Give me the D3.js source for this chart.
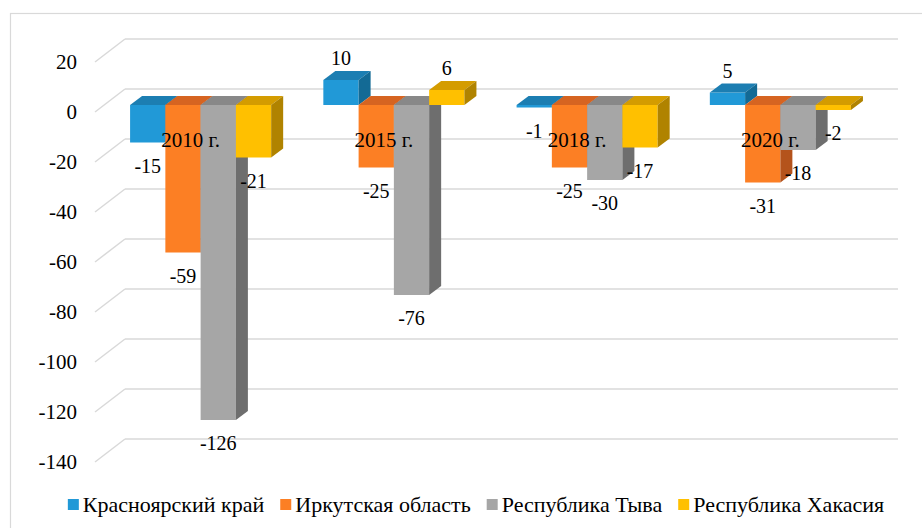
<!DOCTYPE html>
<html>
<head>
<meta charset="utf-8">
<script src="https://cdn.jsdelivr.net/npm/d3@7"></script>
<style>
  body { margin: 0; background: #fff; }
</style>
</head>
<body>
<script>
// data
var categories = ["2010 г.", "2015 г.", "2018 г.", "2020 г."];
var seriesNames = ["Красноярский край", "Иркутская область", "Республика Тыва", "Республика Хакасия"];
var krasnoyarsk = [-15, 10, -1, 5];
var irkutsk = [-59, -25, -25, -31];
var tyva = [-126, -76, -30, -18];
var khakasia = [-21, 6, -17, -2];
var tickValues = [20, 0, -20, -40, -60, -80, -100, -120, -140];

var seriesValues = [krasnoyarsk, irkutsk, tyva, khakasia];
var colors = [
    {front: "#2199d7", top: "#1c7eb2", side: "#136a95"},
    {front: "#fc7f24", top: "#d66421", side: "#b4531c"},
    {front: "#a6a6a6", top: "#888888", side: "#6e6e6e"},
    {front: "#ffc000", top: "#d49c00", side: "#b08300"}
];

var width = 922, height = 528;

//depth of the walls and of the bars
var wallDx = 30, wallDy = -23;
var barOffX = 9, barOffY = -7;
var barDx = 12, barDy = -9;

var svg = d3.select("body").append("svg")
        .attr("width", width)
        .attr("height", height)
        .attr("font-family", "Liberation Serif");

//outer chart border
svg.append("rect")
        .attr("x", 10.5).attr("y", 13.5)
        .attr("width", 940).attr("height", 540)
        .attr("fill", "none")
        .attr("stroke", "#d9d9d9")
        .attr("stroke-width", 1.2);

var y = d3.scaleLinear().domain([-140, 20]).range([462, 62]);

var x0 = d3.scaleBand()
        .domain(categories)
        .range([95, 868])
        .paddingInner(0.27)
        .paddingOuter(0.135);

var x1 = d3.scaleBand()
        .domain(seriesNames)
        .range([0, x0.bandwidth()]);

///////////////////////// gridlines on the wall and floor /////////////////////////
var grid = svg.append("g");
grid.selectAll(".back")
        .data(tickValues)
        .enter().append("line")
        .attr("x1", 95 + wallDx)
        .attr("x2", 868 + wallDx)
        .attr("y1", function(d) { return y(d) + wallDy; })
        .attr("y2", function(d) { return y(d) + wallDy; })
        .attr("stroke", "#d9d9d9")
        .attr("stroke-width", 1.5);

grid.selectAll(".diag")
        .data(tickValues)
        .enter().append("line")
        .attr("x1", 95)
        .attr("x2", 95 + wallDx)
        .attr("y1", function(d) { return y(d); })
        .attr("y2", function(d) { return y(d) + wallDy; })
        .attr("stroke", "#d9d9d9")
        .attr("stroke-width", 1.5);

//value axis labels
svg.append("g").selectAll("text")
        .data(tickValues)
        .enter().append("text")
        .attr("x", 77)
        .attr("y", function(d) { return y(d); })
        .attr("dy", "0.35em")
        .attr("text-anchor", "end")
        .attr("font-size", 21)
        .text(function(d) { return d; });

///////////////////////// bars /////////////////////////
var bars = [];
categories.forEach(function(c, ci) {
    seriesNames.forEach(function(s, si) {
        bars.push({cat: c, ser: s, si: si, value: seriesValues[si][ci]});
    });
});

function pts(a) {
    return a.map(function(p) { return p[0] + "," + p[1]; }).join(" ");
}

var barG = svg.append("g").selectAll("g")
        .data(bars)
        .enter().append("g");

barG.each(function(d) {
    var g = d3.select(this);
    var xl = x0(d.cat) + x1(d.ser) + barOffX;
    var xr = xl + x1.bandwidth();
    var yt = Math.min(y(d.value), y(0)) + barOffY;
    var yb = Math.max(y(d.value), y(0)) + barOffY;
    var c = colors[d.si];
    g.append("polygon")
            .attr("points", pts([[xl, yt], [xr, yt], [xr, yb], [xl, yb]]))
            .attr("fill", c.front);
    g.append("polygon")
            .attr("points", pts([[xl, yt], [xl + barDx, yt + barDy], [xr + barDx, yt + barDy], [xr, yt]]))
            .attr("fill", c.top);
    g.append("polygon")
            .attr("points", pts([[xr, yt], [xr + barDx, yt + barDy], [xr + barDx, yb + barDy], [xr, yb]]))
            .attr("fill", c.side);
});

//category labels
svg.append("g").selectAll("text")
        .data(categories)
        .enter().append("text")
        .attr("x", function(d) { return x0(d) + x0.bandwidth() / 2 - 1; })
        .attr("y", y(0) + 28)
        .attr("dy", "0.35em")
        .attr("text-anchor", "middle")
        .attr("font-size", 21)
        .text(function(d) { return d; });

//value labels
svg.append("g").selectAll("text")
        .data(bars)
        .enter().append("text")
        .attr("x", function(d) { return x0(d.cat) + x1(d.ser) + barOffX + x1.bandwidth() / 2; })
        .attr("y", function(d) {
            return d.value >= 0 ? y(d.value) + barOffY - 22 : y(d.value) + barOffY + 23;
        })
        .attr("dy", "0.35em")
        .attr("text-anchor", "middle")
        .attr("font-size", 20)
        .text(function(d) { return d.value; });

///////////////////////// legend /////////////////////////
var legend = svg.append("g");
var items = legend.selectAll("g")
        .data(seriesNames)
        .enter().append("g");
items.append("rect")
        .attr("width", 11).attr("height", 11)
        .attr("y", 499)
        .attr("fill", function(d, i) { return colors[i].front; });
items.append("text")
        .attr("x", 15)
        .attr("y", 512)
        .attr("font-size", 22)
        .text(function(d) { return d; });

var pos = 0, gap = 16, starts = [];
items.each(function() {
    starts.push(pos);
    pos += 15 + d3.select(this).select("text").node().getComputedTextLength() + gap;
});
var total = pos - gap;
var lx = 476 - total / 2;
items.attr("transform", function(d, i) { return "translate(" + (lx + starts[i]) + ",0)"; });
</script>
</body>
</html>
